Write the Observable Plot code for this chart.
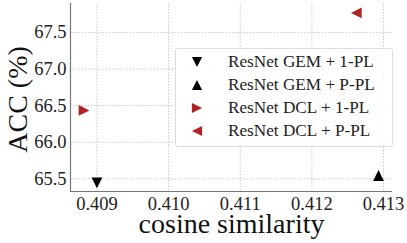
<!DOCTYPE html>
<html>
<head>
<meta charset="utf-8">
<script src="https://cdn.jsdelivr.net/npm/d3@7"></script>
<script src="https://cdn.jsdelivr.net/npm/@observablehq/plot@0.6"></script>
<style>
  body { margin: 0; background: #fff; }
  #wrap { position: relative; width: 407px; height: 243px; font-family: "Liberation Serif", serif; }
  #legend { position: absolute; left: 175px; top: 48px; width: 216px; height: 97px;
    border: 1px solid #dcdcdc; border-radius: 3px; background: rgba(255,255,255,0.85); }
  .row { position: absolute; left: 0; height: 22px; display: flex; align-items: center; }
  .row svg { position: absolute; left: 11px; }
  .row span { position: absolute; left: 52px; white-space: nowrap; font-size: 17.2px; color: #222; }
</style>
</head>
<body>
<div id="wrap"></div>
<script>
const labels = ["ResNet GEM + 1-PL", "ResNet GEM + P-PL", "ResNet DCL + 1-PL", "ResNet DCL + P-PL"];
const cosine = [0.40900, 0.41293, 0.40882, 0.41262];
const acc = [65.443, 65.545, 66.434, 67.767];
const colors = ["#000000", "#000000", "#b22222", "#b22222"];
const rotations = [180, 0, 90, -90];
const xTicks = [0.409, 0.410, 0.411, 0.412, 0.413];
const yTicks = [65.5, 66.0, 66.5, 67.0, 67.5];
const xDomain = [0.408631, 0.413125];
const yDomain = [65.326, 67.896];

const data = labels.map((l, i) => ({label: l, x: cosine[i], y: acc[i], color: colors[i], rot: rotations[i]}));

// matplotlib-style triangle: base width equal to height, centred on its bounding box
const mplTriangle = {
  draw(ctx, size) {
    const s = Math.sqrt(size / Math.PI);
    ctx.moveTo(0, -s);
    ctx.lineTo(s, s);
    ctx.lineTo(-s, s);
    ctx.closePath();
  }
};

const font = "Liberation Serif";
const chart = Plot.plot({
  width: 407, height: 243,
  marginLeft: 70, marginRight: 15, marginTop: 3, marginBottom: 52,
  style: {fontFamily: font, background: "white"},
  x: {domain: xDomain},
  y: {domain: yDomain},
  marks: [
    Plot.gridX(xTicks, {stroke: "#b0b0b0", strokeOpacity: 0.8, strokeDasharray: "1.5,1.5", strokeWidth: 0.8}),
    Plot.gridY(yTicks, {stroke: "#b0b0b0", strokeOpacity: 0.8, strokeDasharray: "1.5,1.5", strokeWidth: 0.8}),
    Plot.ruleX([xDomain[0]], {stroke: "#777", strokeWidth: 1.2}),
    Plot.ruleY([yDomain[0]], {stroke: "#777", strokeWidth: 1.2}),
    Plot.axisX(xTicks, {tickSize: 0, tickPadding: 5, tickFormat: d3.format(".3f"), fontSize: 18.5, fill: "#222", label: null}),
    Plot.axisY(yTicks, {tickSize: 0, tickPadding: 4, tickFormat: d3.format(".1f"), fontSize: 18.5, fill: "#222", label: null}),
    Plot.dot(data, {x: "x", y: "y", symbol: mplTriangle, r: 5.4, fill: "color", stroke: "none", rotate: "rot"}),
    Plot.text(["cosine similarity"], {frameAnchor: "bottom", textAnchor: "middle", lineAnchor: "middle", dy: 33, fontSize: 28, fill: "#111"}),
    Plot.text(["ACC (%)"], {frameAnchor: "left", textAnchor: "middle", lineAnchor: "middle", dx: -52, dy: 2, rotate: -90, fontSize: 28, fill: "#111"})
  ]
});

const wrap = document.getElementById("wrap");
wrap.appendChild(chart);

const legend = document.createElement("div");
legend.id = "legend";
const sym = d3.symbol(mplTriangle, Math.PI * 5.1 * 5.1);
data.forEach((d, i) => {
  const row = document.createElement("div");
  row.className = "row";
  row.style.top = (2 + i * 23) + "px";
  row.innerHTML = `<svg width="20" height="20" viewBox="-10 -10 20 20"><path d="${sym()}" fill="${d.color}" transform="rotate(${d.rot})"></path></svg><span>${d.label}</span>`;
  legend.appendChild(row);
});
wrap.appendChild(legend);
</script>
</body>
</html>
